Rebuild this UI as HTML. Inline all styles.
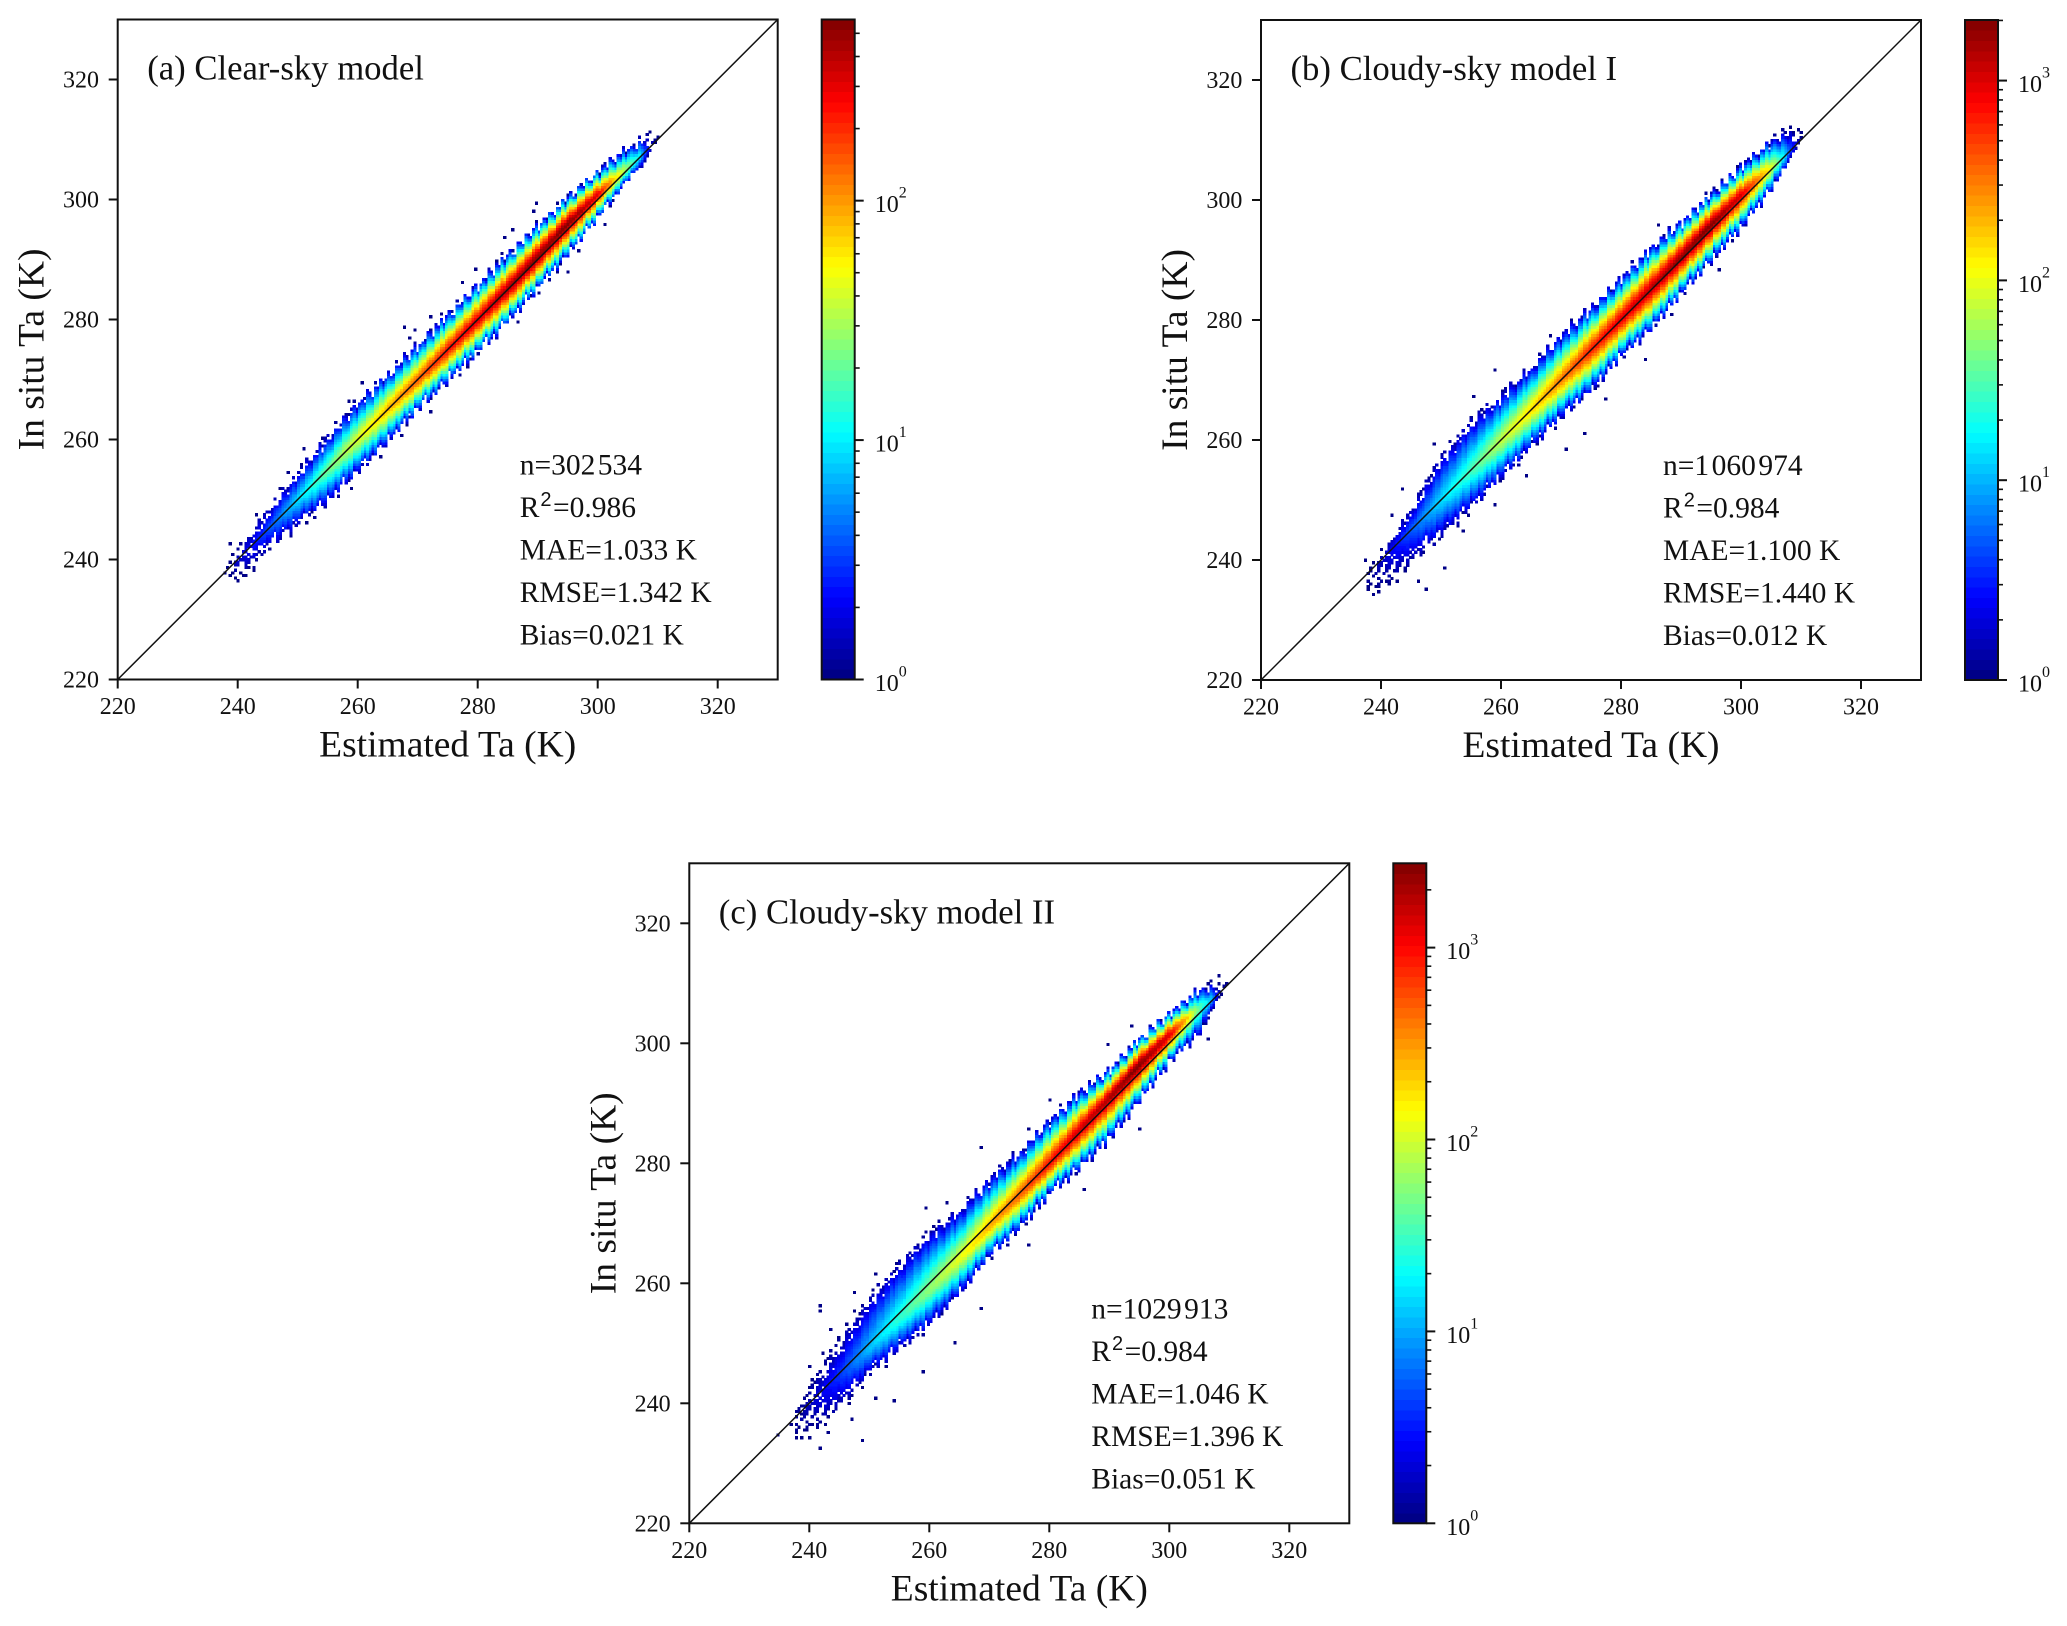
<!DOCTYPE html>
<html lang="en">
<head>
<meta charset="utf-8">
<title>Estimated vs in situ air temperature density scatter plots</title>
<style>
html,body{margin:0;padding:0;background:#fff;}
svg{display:block;}
text{font-family:"Liberation Serif","Times New Roman",serif;fill:#111;}
.title{font-size:34.7px;}
.stat{font-size:29.5px;}
.axis-label{font-size:37.5px;}
.sq{font-family:"Liberation Sans",sans-serif;font-size:20px;}
</style>
</head>
<body>
<svg id="figure" xmlns="http://www.w3.org/2000/svg" width="2067" height="1626" viewBox="0 0 2067 1626">
<rect width="2067" height="1626" fill="#fff"/>

<g id="panel-a" transform="translate(117.7,19.5)">
<g class="marks"></g>
<text class="title" x="29.5" y="60">(a) Clear-sky model</text>
<text class="stat" x="402" y="455">n=302&#8202;534</text>
<text class="stat" x="402" y="497.5">R<tspan class="sq" dx="1" dy="-11">2</tspan><tspan dx="1.5" dy="11">=0.986</tspan></text>
<text class="stat" x="402" y="540">MAE=1.033 K</text>
<text class="stat" x="402" y="582.5">RMSE=1.342 K</text>
<text class="stat" x="402" y="625">Bias=0.021 K</text>
<text class="axis-label" x="330" y="737" text-anchor="middle">Estimated Ta (K)</text>
<text class="axis-label" transform="translate(-74,330) rotate(-90)" text-anchor="middle">In situ Ta (K)</text>
</g>

<g id="panel-b" transform="translate(1261,20)">
<g class="marks"></g>
<text class="title" x="29.5" y="60">(b) Cloudy-sky model I</text>
<text class="stat" x="402" y="455">n=1&#8202;060&#8202;974</text>
<text class="stat" x="402" y="497.5">R<tspan class="sq" dx="1" dy="-11">2</tspan><tspan dx="1.5" dy="11">=0.984</tspan></text>
<text class="stat" x="402" y="540">MAE=1.100 K</text>
<text class="stat" x="402" y="582.5">RMSE=1.440 K</text>
<text class="stat" x="402" y="625">Bias=0.012 K</text>
<text class="axis-label" x="330" y="737" text-anchor="middle">Estimated Ta (K)</text>
<text class="axis-label" transform="translate(-74,330) rotate(-90)" text-anchor="middle">In situ Ta (K)</text>
</g>

<g id="panel-c" transform="translate(689.3,863.3)">
<g class="marks"></g>
<text class="title" x="29.5" y="60">(c) Cloudy-sky model II</text>
<text class="stat" x="402" y="455">n=1029&#8202;913</text>
<text class="stat" x="402" y="497.5">R<tspan class="sq" dx="1" dy="-11">2</tspan><tspan dx="1.5" dy="11">=0.984</tspan></text>
<text class="stat" x="402" y="540">MAE=1.046 K</text>
<text class="stat" x="402" y="582.5">RMSE=1.396 K</text>
<text class="stat" x="402" y="625">Bias=0.051 K</text>
<text class="axis-label" x="330" y="737" text-anchor="middle">Estimated Ta (K)</text>
<text class="axis-label" transform="translate(-74,330) rotate(-90)" text-anchor="middle">In situ Ta (K)</text>
</g>
</svg>

<script>
// Axis tick labels (K)
const axisTicks = [220, 240, 260, 280, 300, 320];

// Stations along the estimated-Ta axis
const stationT = [238, 240, 245, 250, 255, 260, 265, 270, 275, 280, 285, 290, 295, 300, 303, 305, 307, 308, 310];

// Panel (a): peak count, upper / lower reach of the cloud (K from 1:1) and ridge offset (K)
const aPeak  = [1, 1.6, 3.5, 9, 22, 45, 85, 150, 250, 330, 450, 520, 570, 300, 70, 25, 10, 3, 1];
const aUpper = [0.5, 2, 3.5, 4.3, 5.3, 6, 5.6, 5.5, 5.5, 5.5, 5.5, 5.4, 5, 4.4, 3.8, 3.4, 2.9, 2.2, 0.6];
const aLower = [0.8, 3, 3.2, 3.9, 5, 5, 5, 4.6, 4.8, 5, 5, 4.4, 3.9, 2.8, 2.2, 1.8, 1.7, 1.3, 0.3];
const aRidge = [0, 0, 0, 0, 0, 0.2, 0.2, 0, 0, 0, 0.2, 0.5, 1, 0.8, 0.6, 0.5, 0.3, 0.2, 0];
const aOutliers = [[238.6,242.6],[239.5,238.1],[241.1,237.4],[242.8,238.1],[240.4,240],[241.8,238.9],[267.7,278.9],[269.6,278.5],[268.8,276.8],[272.2,280.5],[277.4,286],[279.6,288.5],[285.7,295.2],[284.3,293.8],[289.6,299.2],[289.3,298.2],[308.7,311.1],[309.6,309.4],[301,296],[296.8,291.6],[295,288.1],[293.4,288],[290.3,284.4],[286.5,279.6],[280.7,275.4],[278.2,272.3],[272.2,264.5],[267.3,260.7],[263.7,257.1],[258.8,251.9],[256.8,250.4],[252.9,247.1],[251.5,246],[260.8,269.6],[258.6,266.3],[254,260.4],[251.1,258.3],[248.2,254.5],[247.1,251.9],[242.9,247.4]];
const aVmax = 571;
const aColorbarExponents = [0, 1, 2];

// Panel (b)
const bPeak  = [1.2, 1.6, 5, 14, 30, 75, 150, 320, 650, 1000, 1300, 1700, 2000, 1000, 300, 100, 18, 5, 1];
const bUpper = [0.8, 1.5, 3.5, 7, 7.7, 7, 6.6, 7, 6.6, 6.5, 6.5, 5.9, 5.5, 5.2, 4.8, 4.5, 3.9, 3.2, 1.2];
const bLower = [3, 4.4, 5, 5.5, 5.9, 5.8, 5.7, 5.6, 6.2, 5.5, 6, 5.2, 4.7, 4.2, 3.5, 3.1, 2.3, 1.6, 0.3];
const bRidge = [0, 0, 0, 0, 0, 0, 0.1, 0.1, 0.1, 0.2, 0.3, 0.5, 0.9, 0.8, 0.6, 0.4, 0.2, 0.1, 0];
const bOutliers = [[237.2,240],[237.9,235.7],[239.7,234.7],[247.7,235.3],[250.7,238.9],[246.1,236.6],[241.7,247.4],[243.5,252.1],[248.7,259.3],[255.6,267.4],[259,271.5],[268.2,277.3],[278.5,285],[286.2,296],[308.1,312],[309.5,311.6],[271,258.3],[273.9,261.3],[277.5,266.8],[283.8,273.4],[288.3,281],[293.9,288.7],[296.5,288.5],[238.4,238.1],[240.7,236.4],[244.1,238.1],[253.8,244.9],[259,249.1],[264.1,254.2]];
const bVmax = 2010;
const bColorbarExponents = [0, 1, 2, 3];

// Panel (c)
const cPeak  = [1.3, 1.6, 4, 12, 28, 60, 120, 260, 500, 1000, 1500, 2000, 2740, 1400, 200, 40, 12, 2, 1];
const cUpper = [1.5, 2.8, 5.3, 7.4, 7.9, 7.9, 6.7, 7, 6.3, 6.7, 6.3, 5.2, 5.4, 4.6, 4.2, 3.8, 2.6, 1.5, 0.1];
const cLower = [3, 4.7, 5.5, 4.7, 5.5, 6.3, 6.3, 5, 5.4, 4.6, 5.4, 5.4, 4.2, 2.9, 3, 3.3, 1.5, 0.6, 0.1];
const cRidge = [0, -0.2, -0.5, -0.8, -0.9, -1, -0.9, -0.5, -0.2, 0, 0.5, 1, 1.5, 1.5, 1.3, 1, 0.5, 0.2, 0];
const cOutliers = [[234.8,234.7],[237.7,234.3],[241.6,232.6],[243.2,235.1],[248.6,233.9],[236.9,236.5],[241.9,256.2],[241.9,255.5],[240.1,246.1],[242.1,248.2],[243.4,252.4],[253.9,240.3],[247.6,258.3],[251.2,261.6],[259.5,272.6],[262.7,273.6],[268.6,282.5],[276.7,285.6],[280,290.7],[289.7,300],[293.9,303],[308.2,311.3],[306.4,310],[306.4,300.9],[294.9,285.6],[285.8,275.8],[276.7,266.6],[268.4,255.8],[264.2,250.1],[259,245.3],[251.2,241.1],[247.1,237.4],[240.3,236.5],[238.7,238.2],[244.5,239.5]];
const cVmax = 2750;
const cColorbarExponents = [0, 1, 2, 3];

// Hand-typed texture of the sparse fringe
const edgeJitter = [0.3,-0.5,0.7,0,-0.8,0.4,-0.2,0.8,-0.6,0.2,0.5,-0.3,-0.7,0.6,0.1,-0.4,0.8,-0.1,-0.6,0.3,0.6,-0.8,0.2];
const fringePattern = [1,0,1,1,0,0,1,0,1,1,1,0,0,1,0,1,0,0,1,1,0,1,0,1,1,0,0,0,1,0,1];

const NS = 'http://www.w3.org/2000/svg';
const SIZE = 660, T_MIN = 220, T_MAX = 330, BIN = 0.44, LEVELS = 64;
const CB_X = 704, CB_W = 33;
const REACH_SCALE = 1.12, FALLOFF = 1.25;

function xScale(t) { return (t - T_MIN) / (T_MAX - T_MIN) * SIZE; }
function yScale(t) { return SIZE - (t - T_MIN) / (T_MAX - T_MIN) * SIZE; }

function mk(parent, tag, attrs, name) {
  const el = document.createElementNS(NS, tag);
  for (const k in attrs) el.setAttribute(k, attrs[k]);
  
  
  parent.appendChild(el);
  return el;
}

function clamp01(v) { return Math.max(0, Math.min(1, v)); }
function jet(f) {
  const r = clamp01(1.5 - Math.abs(4 * f - 3));
  const g = clamp01(1.5 - Math.abs(4 * f - 2));
  const b = clamp01(1.5 - Math.abs(4 * f - 1));
  return 'rgb(' + Math.round(r * 255) + ',' + Math.round(g * 255) + ',' + Math.round(b * 255) + ')';
}

function lookup(series, t) {
  if (t <= stationT[0]) return series[0];
  for (let i = 1; i < stationT.length; i++) {
    if (t <= stationT[i]) {
      const w = (t - stationT[i - 1]) / (stationT[i] - stationT[i - 1]);
      return series[i - 1] + (series[i] - series[i - 1]) * w;
    }
  }
  return series[series.length - 1];
}
function lookupLog(series, t) {
  return lookup(series.map(function (v) { return Math.log10(v); }), t);
}

function drawHeatmap(g, peak, upper, lower, ridge, outliers, vmax, id) {
  const buckets = [];
  for (let l = 0; l < LEVELS; l++) buckets.push([]);
  const logMax = Math.log10(vmax);
  const w = xScale(BIN) - xScale(0) + 0.6;
  function put(tx, ty, logCount) {
    const lv = Math.min(LEVELS - 1, Math.floor(clamp01(logCount / logMax) * LEVELS));
    buckets[lv].push('M' + xScale(tx).toFixed(1) + ' ' + yScale(ty + BIN).toFixed(1) + 'h' + w.toFixed(2) + 'v' + w.toFixed(2) + 'h-' + w.toFixed(2) + 'z');
  }
  const first = stationT[0], last = stationT[stationT.length - 1];
  const iStart = Math.floor((first - T_MIN) / BIN), iEnd = Math.ceil((last - T_MIN) / BIN);
  for (let i = iStart; i < iEnd; i++) {
    const tx = T_MIN + i * BIN;
    const c = tx + BIN / 2;
    const lp = lookupLog(peak, c);
    const upBase = lookup(upper, c), loBase = lookup(lower, c);
    const up = (upBase + edgeJitter[i % edgeJitter.length] * Math.min(1, upBase / 3)) * REACH_SCALE;
    const lo = (loBase + edgeJitter[(i + 11) % edgeJitter.length] * Math.min(1, loBase / 3)) * REACH_SCALE;
    const rd = lookup(ridge, c);
    for (let j = i - 30; j < i + 30; j++) {
      const ty = T_MIN + j * BIN;
      const off = ty + BIN / 2 - c;
      const reach = (off >= rd ? up - rd : lo + rd);
      if (reach <= 0) continue;
      const frac = Math.abs(off - rd) / reach;
      if (frac > 1) continue;
      const logCount = lp * (1 - Math.pow(frac, FALLOFF));
      const k = Math.abs(i * 7 + j * 3);
      if (logCount < 0.35 && !fringePattern[k % fringePattern.length]) continue;
      if (logCount < 0.14 && !fringePattern[(k + 5) % fringePattern.length]) continue;
      put(tx, ty, logCount);
    }
  }
  outliers.forEach(function (p) {
    put(Math.floor(p[0] / BIN) * BIN, Math.floor(p[1] / BIN) * BIN, 0);
  });
  buckets.forEach(function (cells, l) {
    if (!cells.length) return;
    mk(g, 'path', { d: cells.join(''), fill: jet((l + 0.5) / LEVELS), 'shape-rendering': 'crispEdges' }, 'heatmap-cells-' + id + '-level-' + l);
  });
}

function drawAxes(g, id) {
  mk(g, 'line', { x1: xScale(T_MIN), y1: yScale(T_MIN), x2: xScale(T_MAX), y2: yScale(T_MAX), stroke: '#111', 'stroke-width': 1.5 }, 'one-to-one-line-' + id);
  mk(g, 'rect', { x: 0, y: 0, width: SIZE, height: SIZE, fill: 'none', stroke: '#111', 'stroke-width': 2 }, 'plot-frame-' + id);
  axisTicks.forEach(function (t) {
    const x = xScale(t), y = yScale(t);
    mk(g, 'line', { x1: x, y1: SIZE, x2: x, y2: SIZE + 9, stroke: '#111', 'stroke-width': 2 }, 'x-tick-' + id + '-' + t);
    mk(g, 'line', { x1: 0, y1: y, x2: -9, y2: y, stroke: '#111', 'stroke-width': 2 }, 'y-tick-' + id + '-' + t);
    const xl = mk(g, 'text', { x: x, y: SIZE + 34.5, 'text-anchor': 'middle', 'font-size': 24 }, 'x-tick-label-' + id + '-' + t);
    xl.textContent = t;
    const yl = mk(g, 'text', { x: -18.7, y: y + 8, 'text-anchor': 'end', 'font-size': 24 }, 'y-tick-label-' + id + '-' + t);
    yl.textContent = t;
  });
}

function drawColorbar(g, vmax, exponents, id) {
  const logMax = Math.log10(vmax);
  function cbY(v) { return SIZE - Math.log10(v) / logMax * SIZE; }
  for (let l = 0; l < LEVELS; l++) {
    const top = SIZE * (1 - (l + 1) / LEVELS), h = SIZE / LEVELS;
    mk(g, 'rect', { x: CB_X, y: top.toFixed(2), width: CB_W, height: (h + 0.4).toFixed(2), fill: jet((l + 0.5) / LEVELS), 'shape-rendering': 'crispEdges' }, 'colorbar-band-' + id + '-' + l);
  }
  mk(g, 'rect', { x: CB_X, y: 0, width: CB_W, height: SIZE, fill: 'none', stroke: '#111', 'stroke-width': 2 }, 'colorbar-frame-' + id);
  exponents.forEach(function (e) {
    const y = cbY(Math.pow(10, e));
    mk(g, 'line', { x1: CB_X + CB_W, y1: y, x2: CB_X + CB_W + 9, y2: y, stroke: '#111', 'stroke-width': 2 }, 'colorbar-major-tick-' + id + '-' + e);
    const lbl = mk(g, 'text', { x: CB_X + CB_W + 20, y: y + 11.5, 'font-size': 24 }, 'colorbar-tick-label-' + id + '-' + e);
    lbl.textContent = '10';
    const sup = mk(g, 'text', { x: CB_X + CB_W + 44, y: y - 3, 'font-size': 16 }, 'colorbar-tick-exponent-' + id + '-' + e);
    sup.textContent = e;
    for (let m = 2; m <= 9; m++) {
      const v = m * Math.pow(10, e);
      if (v > vmax) break;
      mk(g, 'line', { x1: CB_X + CB_W, y1: cbY(v), x2: CB_X + CB_W + 5, y2: cbY(v), stroke: '#111', 'stroke-width': 1.6 }, 'colorbar-minor-tick-' + id + '-' + e + '-' + m);
    }
  });
}

function drawPanel(id, peak, upper, lower, ridge, outliers, vmax, exponents) {
  const g = document.querySelector('#panel-' + id + ' .marks');
  drawHeatmap(g, peak, upper, lower, ridge, outliers, vmax, id);
  drawAxes(g, id);
  drawColorbar(g, vmax, exponents, id);
}

drawPanel('a', aPeak, aUpper, aLower, aRidge, aOutliers, aVmax, aColorbarExponents);
drawPanel('b', bPeak, bUpper, bLower, bRidge, bOutliers, bVmax, bColorbarExponents);
drawPanel('c', cPeak, cUpper, cLower, cRidge, cOutliers, cVmax, cColorbarExponents);
</script>
</body>
</html>
